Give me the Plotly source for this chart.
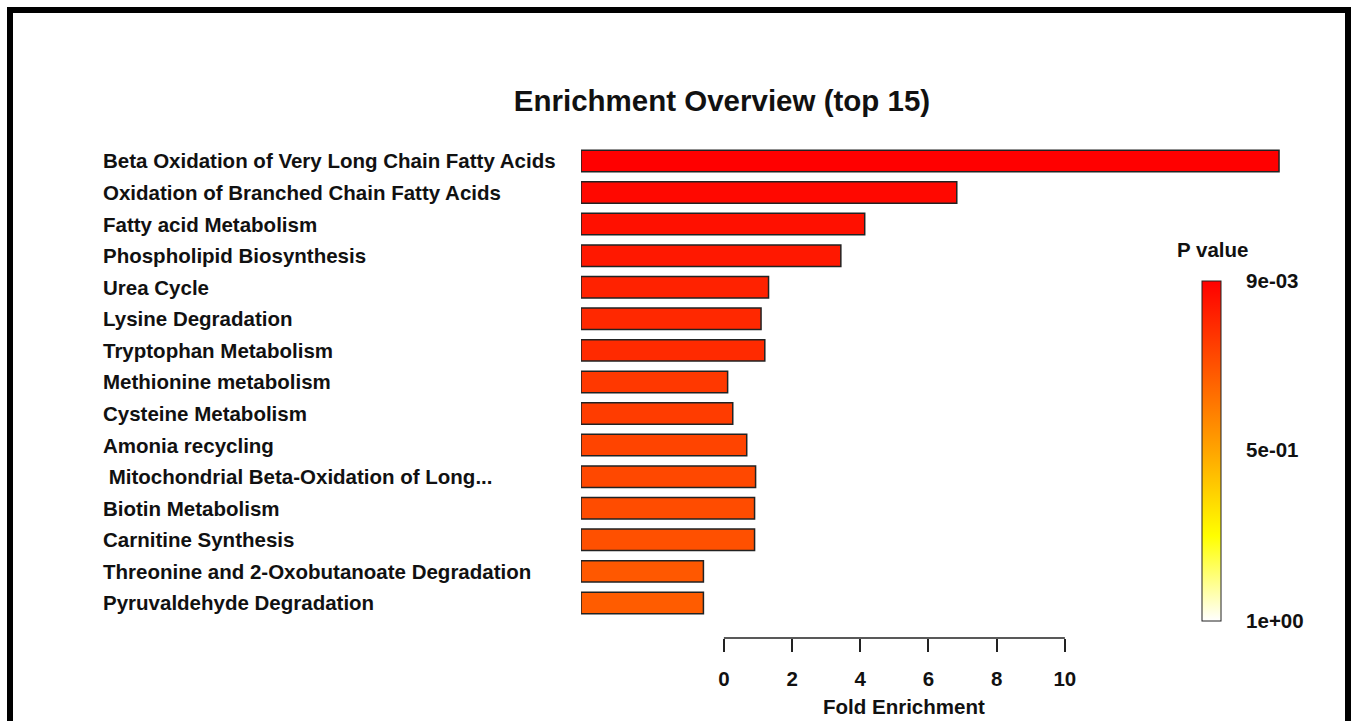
import plotly.graph_objects as go

# ---- data ----
pathways = [
    "Beta Oxidation of Very Long Chain Fatty Acids",
    "Oxidation of Branched Chain Fatty Acids",
    "Fatty acid Metabolism",
    "Phospholipid Biosynthesis",
    "Urea Cycle",
    "Lysine Degradation",
    "Tryptophan Metabolism",
    "Methionine metabolism",
    "Cysteine Metabolism",
    "Amonia recycling",
    " Mitochondrial Beta-Oxidation of Long...",
    "Biotin Metabolism",
    "Carnitine Synthesis",
    "Threonine and 2-Oxobutanoate Degradation",
    "Pyruvaldehyde Degradation",
]
fold_enrichment = [16.28, 6.83, 4.13, 3.43, 1.31, 1.09, 1.20, 0.11, 0.26, 0.67, 0.93, 0.90, 0.90, -0.60, -0.60]
p_values = [0.009, 0.033, 0.057, 0.081, 0.111, 0.129, 0.135, 0.177, 0.189, 0.213, 0.225, 0.237, 0.249, 0.273, 0.285]
x_ticks = [0, 2, 4, 6, 8, 10]
cbar_ticks = [0.009, 0.5, 1.0]
cbar_ticktext = ["9e-03", "5e-01", "1e+00"]

# ---- layout geometry ----
W, H = 1354, 721
L, R, T, B = 581, 50, 130, 83
PW, PH = W - L - R, H - T - B
XMIN = -4.19
PX_PER_UNIT = 34.1
XMAX = XMIN + PW / PX_PER_UNIT

FONT = "Liberation Sans, Arial, sans-serif"
FS = 20.5


def px_x(px):
    return (px - L) / PW


def px_y(py):
    return (H - B - py) / PH


fig = go.Figure()
fig.add_trace(go.Bar(
    orientation="h",
    y=pathways,
    x=[v - XMIN for v in fold_enrichment],
    base=XMIN,
    width=0.68,
    marker=dict(
        color=[-p for p in p_values],
        cmin=-1.0,
        cmax=-0.009,
        colorscale=[[0.0, "#ffffff"], [0.25, "#ffff00"], [0.5, "#ffa500"], [1.0, "#ff0000"]],
        line=dict(color="#222222", width=1.5),
        colorbar=dict(
            xref="paper", x=px_x(1202), xanchor="left", xpad=0,
            yref="paper", y=px_y(621), yanchor="bottom", ypad=0,
            lenmode="pixels", len=340,
            thicknessmode="pixels", thickness=19,
            outlinewidth=1, outlinecolor="#222222",
            borderwidth=0,
            tickvals=[-v for v in cbar_ticks],
            ticktext=cbar_ticktext,
            ticks="outside", ticklen=21, tickcolor="rgba(0,0,0,0)",
            tickfont=dict(family=FONT, size=FS, color="#111111", weight="bold"),
        ),
    ),
    hoverinfo="skip",
))

annotations = []
for name in pathways:
    annotations.append(dict(
        xref="paper", yref="y", x=px_x(101), y=name,
        xanchor="left", yanchor="middle", showarrow=False,
        text=name.replace(" ", "\u00a0") if name.startswith(" ") else name,
        font=dict(family=FONT, size=FS, color="#111111", weight="bold"),
    ))
annotations.append(dict(
    xref="paper", yref="paper", x=px_x(904), y=px_y(706),
    xanchor="center", yanchor="middle", showarrow=False,
    text="Fold Enrichment",
    font=dict(family=FONT, size=FS, color="#111111", weight="bold"),
))
annotations.append(dict(
    xref="paper", yref="paper", x=px_x(1212), y=px_y(249),
    xanchor="center", yanchor="middle", showarrow=False,
    text="P value",
    font=dict(family=FONT, size=FS, color="#111111", weight="bold"),
))

shapes = [
    dict(type="line", xref="x", yref="paper", x0=x_ticks[0], x1=x_ticks[-1], y0=0, y1=0,
         line=dict(color="#222222", width=1.5)),
    dict(type="rect", xref="paper", yref="paper",
         x0=px_x(10), x1=px_x(1348), y0=px_y(10), y1=px_y(745),
         line=dict(color="#000000", width=6), fillcolor="rgba(0,0,0,0)"),
]

fig.update_layout(
    width=W, height=H,
    margin=dict(l=L, r=R, t=T, b=B, autoexpand=False),
    paper_bgcolor="white", plot_bgcolor="white",
    showlegend=False,
    title=dict(
        text="Enrichment Overview (top 15)",
        xref="container", x=722 / W, xanchor="center",
        yref="container", y=1 - 101 / H, yanchor="middle",
        font=dict(family=FONT, size=29.5, color="#111111", weight="bold"),
    ),
    xaxis=dict(
        range=[XMIN, XMAX], showgrid=False, zeroline=False, showline=False,
        tickvals=x_ticks, ticks="outside", ticklen=13, tickwidth=1.5, tickcolor="#222222",
        ticklabelstandoff=9,
        tickfont=dict(family=FONT, size=FS, color="#111111", weight="bold"),
    ),
    yaxis=dict(
        range=[15.11, -0.98], showgrid=False, zeroline=False, showline=False,
        showticklabels=False, ticks="",
    ),
    annotations=annotations,
    shapes=shapes,
)

fig.write_html("out.html")
